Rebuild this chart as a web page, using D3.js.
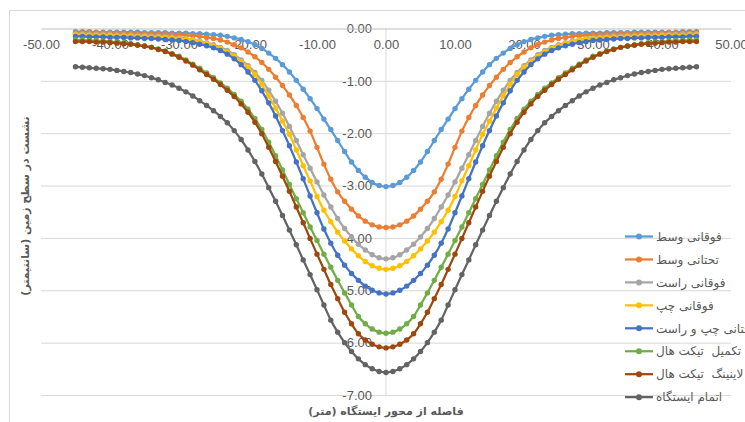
<!DOCTYPE html>
<html>
<head>
<meta charset="utf-8">
<script src="https://cdn.jsdelivr.net/npm/d3@7"></script>
<style>
  body { margin: 0; background: #fff; }
  svg { display: block; }
  .legend-label { white-space: pre; }
</style>
</head>
<body>
<svg id="chart"></svg>
<script>
// distance from station axis (m)
const distance = [
  -45,-44,-43,-42,-41,-40,-39,-38,-37,-36,
  -35,-34,-33,-32,-31,-30,-29,-28,-27,-26,
  -25,-24,-23,-22,-21,-20,-19,-18,-17,-16,
  -15,-14,-13,-12,-11,-10,-9,-8,-7,-6,
  -5,-4,-3,-2,-1,0,1,2,3,4,
  5,6,7,8,9,10,11,12,13,14,
  15,16,17,18,19,20,21,22,23,24,
  25,26,27,28,29,30,31,32,33,34,
  35,36,37,38,39,40,41,42,43,44,
  45
];

// ground surface settlement (cm)
const upperMiddle = [
  -0.06,-0.06,-0.06,-0.07,-0.07,-0.07,-0.07,-0.07,-0.07,-0.07,
  -0.08,-0.08,-0.08,-0.08,-0.09,-0.09,-0.09,-0.10,-0.10,-0.11,
  -0.12,-0.13,-0.15,-0.18,-0.21,-0.25,-0.31,-0.38,-0.47,-0.57,
  -0.69,-0.83,-0.99,-1.16,-1.34,-1.53,-1.73,-1.93,-2.14,-2.35,
  -2.55,-2.71,-2.84,-2.94,-3.00,-3.02,-3.00,-2.94,-2.84,-2.71,
  -2.55,-2.35,-2.14,-1.93,-1.73,-1.53,-1.34,-1.16,-0.99,-0.83,
  -0.69,-0.57,-0.47,-0.38,-0.31,-0.25,-0.21,-0.18,-0.15,-0.13,
  -0.12,-0.11,-0.10,-0.10,-0.09,-0.09,-0.09,-0.08,-0.08,-0.08,
  -0.08,-0.07,-0.07,-0.07,-0.07,-0.07,-0.07,-0.07,-0.06,-0.06,
  -0.06
];
const lowerMiddle = [
  -0.08,-0.08,-0.08,-0.08,-0.08,-0.09,-0.09,-0.09,-0.09,-0.10,
  -0.10,-0.10,-0.11,-0.11,-0.12,-0.12,-0.13,-0.14,-0.15,-0.17,
  -0.19,-0.22,-0.26,-0.31,-0.37,-0.45,-0.54,-0.65,-0.78,-0.93,
  -1.09,-1.27,-1.47,-1.70,-1.96,-2.27,-2.59,-2.88,-3.12,-3.30,
  -3.45,-3.58,-3.68,-3.75,-3.79,-3.80,-3.79,-3.75,-3.68,-3.58,
  -3.45,-3.30,-3.12,-2.88,-2.59,-2.27,-1.96,-1.70,-1.47,-1.27,
  -1.09,-0.93,-0.78,-0.65,-0.54,-0.45,-0.37,-0.31,-0.26,-0.22,
  -0.19,-0.17,-0.15,-0.14,-0.13,-0.12,-0.12,-0.11,-0.11,-0.10,
  -0.10,-0.10,-0.09,-0.09,-0.09,-0.09,-0.08,-0.08,-0.08,-0.08,
  -0.08
];
const upperRight = [
  -0.10,-0.10,-0.10,-0.11,-0.11,-0.11,-0.12,-0.12,-0.12,-0.13,
  -0.13,-0.14,-0.14,-0.15,-0.16,-0.17,-0.19,-0.21,-0.24,-0.27,
  -0.31,-0.36,-0.42,-0.50,-0.60,-0.71,-0.84,-0.99,-1.18,-1.39,
  -1.62,-1.87,-2.14,-2.41,-2.67,-2.93,-3.18,-3.41,-3.63,-3.82,
  -3.98,-4.12,-4.23,-4.32,-4.38,-4.40,-4.38,-4.32,-4.23,-4.12,
  -3.98,-3.82,-3.63,-3.41,-3.18,-2.93,-2.67,-2.41,-2.14,-1.87,
  -1.62,-1.39,-1.18,-0.99,-0.84,-0.71,-0.60,-0.50,-0.42,-0.36,
  -0.31,-0.27,-0.24,-0.21,-0.19,-0.17,-0.16,-0.15,-0.14,-0.14,
  -0.13,-0.13,-0.12,-0.12,-0.12,-0.11,-0.11,-0.11,-0.10,-0.10,
  -0.10
];
const upperLeft = [
  -0.12,-0.12,-0.13,-0.13,-0.13,-0.13,-0.14,-0.14,-0.14,-0.15,
  -0.15,-0.16,-0.16,-0.17,-0.18,-0.19,-0.20,-0.22,-0.25,-0.28,
  -0.33,-0.38,-0.45,-0.53,-0.63,-0.74,-0.88,-1.07,-1.29,-1.52,
  -1.77,-2.02,-2.32,-2.62,-2.91,-3.21,-3.47,-3.69,-3.89,-4.06,
  -4.21,-4.34,-4.45,-4.53,-4.58,-4.60,-4.58,-4.53,-4.45,-4.34,
  -4.21,-4.06,-3.89,-3.69,-3.47,-3.21,-2.91,-2.62,-2.32,-2.02,
  -1.77,-1.52,-1.29,-1.07,-0.88,-0.74,-0.63,-0.53,-0.45,-0.38,
  -0.33,-0.28,-0.25,-0.22,-0.20,-0.19,-0.18,-0.17,-0.16,-0.16,
  -0.15,-0.15,-0.14,-0.14,-0.14,-0.13,-0.13,-0.13,-0.13,-0.12,
  -0.12
];
const lowerSides = [
  -0.15,-0.15,-0.16,-0.16,-0.16,-0.17,-0.17,-0.17,-0.18,-0.18,
  -0.19,-0.19,-0.20,-0.21,-0.22,-0.23,-0.25,-0.27,-0.30,-0.33,
  -0.37,-0.42,-0.49,-0.58,-0.69,-0.83,-0.99,-1.19,-1.42,-1.67,
  -1.95,-2.24,-2.55,-2.87,-3.20,-3.52,-3.83,-4.10,-4.33,-4.52,
  -4.68,-4.81,-4.92,-5.00,-5.05,-5.07,-5.05,-5.00,-4.92,-4.81,
  -4.68,-4.52,-4.33,-4.10,-3.83,-3.52,-3.20,-2.87,-2.55,-2.24,
  -1.95,-1.67,-1.42,-1.19,-0.99,-0.83,-0.69,-0.58,-0.49,-0.42,
  -0.37,-0.33,-0.30,-0.27,-0.25,-0.23,-0.22,-0.21,-0.20,-0.19,
  -0.19,-0.18,-0.18,-0.17,-0.17,-0.17,-0.16,-0.16,-0.16,-0.15,
  -0.15
];
const ticketHallDone = [
  -0.22,-0.22,-0.23,-0.23,-0.24,-0.25,-0.26,-0.27,-0.29,-0.31,
  -0.33,-0.36,-0.39,-0.43,-0.48,-0.53,-0.60,-0.68,-0.76,-0.85,
  -0.94,-1.04,-1.14,-1.26,-1.39,-1.54,-1.72,-1.93,-2.17,-2.43,
  -2.70,-2.98,-3.25,-3.52,-3.79,-4.05,-4.31,-4.56,-4.81,-5.05,
  -5.28,-5.50,-5.64,-5.74,-5.80,-5.82,-5.80,-5.74,-5.64,-5.50,
  -5.28,-5.05,-4.81,-4.56,-4.31,-4.05,-3.79,-3.52,-3.25,-2.98,
  -2.70,-2.43,-2.17,-1.93,-1.72,-1.54,-1.39,-1.26,-1.14,-1.04,
  -0.94,-0.85,-0.76,-0.68,-0.60,-0.53,-0.48,-0.43,-0.39,-0.36,
  -0.33,-0.31,-0.29,-0.27,-0.26,-0.25,-0.24,-0.23,-0.23,-0.22,
  -0.22
];
const ticketHallLining = [
  -0.25,-0.25,-0.25,-0.26,-0.26,-0.27,-0.28,-0.29,-0.30,-0.32,
  -0.34,-0.36,-0.40,-0.44,-0.49,-0.55,-0.62,-0.70,-0.79,-0.88,
  -0.97,-1.07,-1.18,-1.30,-1.44,-1.60,-1.79,-2.01,-2.27,-2.54,
  -2.82,-3.11,-3.41,-3.71,-4.01,-4.31,-4.60,-4.89,-5.16,-5.42,
  -5.64,-5.83,-5.95,-6.03,-6.08,-6.10,-6.08,-6.03,-5.95,-5.83,
  -5.64,-5.42,-5.16,-4.89,-4.60,-4.31,-4.01,-3.71,-3.41,-3.11,
  -2.82,-2.54,-2.27,-2.01,-1.79,-1.60,-1.44,-1.30,-1.18,-1.07,
  -0.97,-0.88,-0.79,-0.70,-0.62,-0.55,-0.49,-0.44,-0.40,-0.36,
  -0.34,-0.32,-0.30,-0.29,-0.28,-0.27,-0.26,-0.26,-0.25,-0.25,
  -0.25
];
const stationDone = [
  -0.73,-0.74,-0.75,-0.76,-0.77,-0.78,-0.80,-0.82,-0.84,-0.87,
  -0.90,-0.94,-0.98,-1.03,-1.08,-1.14,-1.21,-1.29,-1.38,-1.47,
  -1.57,-1.68,-1.80,-1.95,-2.12,-2.32,-2.54,-2.78,-3.04,-3.30,
  -3.57,-3.85,-4.13,-4.42,-4.70,-4.99,-5.28,-5.57,-5.80,-6.00,
  -6.17,-6.31,-6.42,-6.50,-6.55,-6.57,-6.55,-6.50,-6.42,-6.31,
  -6.17,-6.00,-5.80,-5.57,-5.28,-4.99,-4.70,-4.42,-4.13,-3.85,
  -3.57,-3.30,-3.04,-2.78,-2.54,-2.32,-2.12,-1.95,-1.80,-1.68,
  -1.57,-1.47,-1.38,-1.29,-1.21,-1.14,-1.08,-1.03,-0.98,-0.94,
  -0.90,-0.87,-0.84,-0.82,-0.80,-0.78,-0.77,-0.76,-0.75,-0.74,
  -0.73
];

const seriesNames = [
  "فوقانی وسط", "تحتانی وسط", "فوقانی راست", "فوقانی چپ",
  "تحتانی چپ و راست", "تکمیل  تیکت هال", "لاینینگ  تیکت هال", "اتمام ایستگاه"
];
const seriesColors = ["#5B9BD5", "#ED7D31", "#A5A5A5", "#FFC000", "#4472C4", "#70AD47", "#9E480E", "#636363"];
const xTicks = [-50, -40, -30, -20, -10, 0, 10, 20, 30, 40, 50];
const yTicks = [0, -1, -2, -3, -4, -5, -6, -7];
const xTitle = "فاصله از محور ایستگاه (متر)";
const yTitle = "نشست در سطح زمین (سانتیمتر)";

const series = [upperMiddle, lowerMiddle, upperRight, upperLeft, lowerSides, ticketHallDone, ticketHallLining, stationDone]
  .map((values, i) => ({ name: seriesNames[i], color: seriesColors[i], values }));

const width = 745, height = 422;
const labelFont = "'Liberation Sans', Arial, sans-serif";
const faFont = "'DejaVu Sans', sans-serif";
const textColor = "#595959";

const fmt = d3.formatLocale({ decimal: ".", thousands: ",", grouping: [3], currency: ["", ""], minus: "-" }).format(".2f");

const x = d3.scaleLinear().domain([-50, 50]).range([41, 731]);
const y = d3.scaleLinear().domain([-7, 0]).range([395, 28.5]);

const svg = d3.select("#chart")
  .attr("width", width)
  .attr("height", height)
  .attr("viewBox", [0, 0, width, height]);

svg.append("rect").attr("width", width).attr("height", height).attr("fill", "#fff");
// chart frame
svg.append("rect")
  .attr("x", 9.5).attr("y", 10.5)
  .attr("width", 800).attr("height", 500)
  .attr("fill", "none").attr("stroke", "#d9d9d9");

// horizontal grid
svg.append("g")
  .attr("transform", `translate(${x.range()[0]},0)`)
  .call(d3.axisRight(y).tickValues(yTicks.filter(d => d !== 0)).tickSize(x.range()[1] - x.range()[0]).tickFormat(""))
  .call(g => g.select(".domain").remove())
  .call(g => g.selectAll(".tick line").attr("stroke", "#d9d9d9"));

// vertical axis line at x = 0
svg.append("line")
  .attr("x1", x(0)).attr("x2", x(0))
  .attr("y1", y(0)).attr("y2", y(-7))
  .attr("stroke", "#d9d9d9");

// y tick labels sit on the zero line
svg.append("g")
  .attr("transform", `translate(${x(0)},0)`)
  .call(d3.axisLeft(y).tickValues(yTicks).tickSize(0).tickPadding(14).tickFormat(fmt))
  .call(g => g.select(".domain").remove())
  .call(g => g.selectAll("text")
    .attr("fill", textColor)
    .attr("font-family", labelFont)
    .attr("font-size", 13));

// x axis along the top (0 settlement)
svg.append("g")
  .attr("transform", `translate(0,${y(0)})`)
  .call(d3.axisBottom(x).tickValues(xTicks).tickSize(0).tickSizeOuter(0).tickPadding(11).tickFormat(fmt))
  .call(g => g.select(".domain").attr("stroke", "#bfbfbf"))
  .call(g => g.selectAll("text")
    .attr("fill", textColor)
    .attr("font-family", labelFont)
    .attr("font-size", 13));

const line = d3.line()
  .x((d, i) => x(distance[i]))
  .y(d => y(d))
  .curve(d3.curveCatmullRom);

const plots = svg.append("g")
  .selectAll("g")
  .data(series)
  .join("g")
    .attr("fill", d => d.color)
    .attr("stroke", d => d.color);

plots.append("path")
  .attr("d", d => line(d.values))
  .attr("fill", "none")
  .attr("stroke-width", 2.25);

plots.selectAll("circle")
  .data(d => d.values)
  .join("circle")
    .attr("cx", (d, i) => x(distance[i]))
    .attr("cy", d => y(d))
    .attr("r", 2.7)
    .attr("stroke", "none");

// legend
const legend = svg.append("g")
  .attr("transform", "translate(625,236.5)")
  .selectAll("g")
  .data(series)
  .join("g")
    .attr("transform", (d, i) => `translate(0,${i * 22.95})`);

legend.append("line")
  .attr("x1", 0).attr("x2", 28)
  .attr("stroke", d => d.color)
  .attr("stroke-width", 2.25);
legend.append("circle")
  .attr("cx", 14).attr("r", 3)
  .attr("fill", d => d.color);
legend.append("text")
  .attr("class", "legend-label")
  .attr("x", 31)
  .attr("dy", "0.35em")
  .attr("fill", textColor)
  .attr("font-family", faFont)
  .attr("font-size", 12)
  .text(d => d.name);

// axis titles
svg.append("text")
  .attr("x", x(0))
  .attr("y", 411)
  .attr("dy", "0.35em")
  .attr("text-anchor", "middle")
  .attr("fill", textColor)
  .attr("font-family", faFont)
  .attr("font-size", 11)
  .attr("font-weight", "bold")
  .text(xTitle);

svg.append("text")
  .attr("transform", "translate(25,206) rotate(-90)")
  .attr("dy", "0.35em")
  .attr("text-anchor", "middle")
  .attr("fill", textColor)
  .attr("font-family", faFont)
  .attr("font-size", 11)
  .attr("font-weight", "bold")
  .text(yTitle);
</script>
</body>
</html>
